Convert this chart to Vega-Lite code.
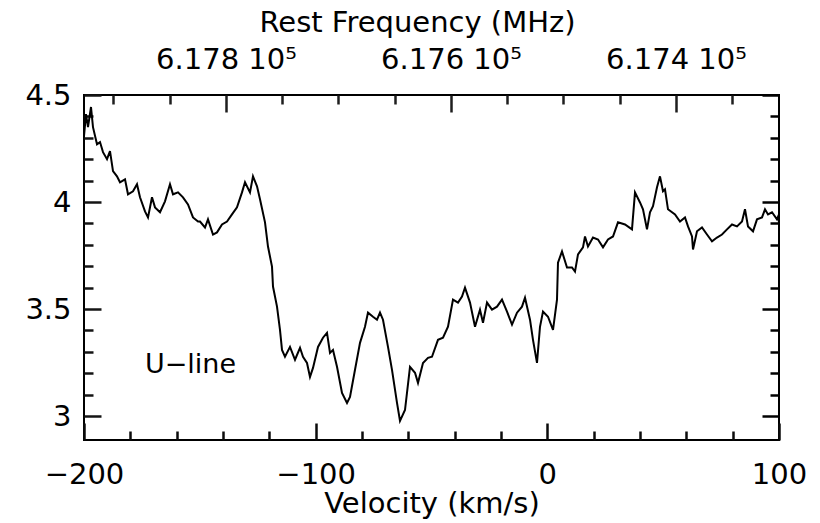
{
  "$schema": "https://vega.github.io/schema/vega-lite/v6.json",
  "width": 695,
  "height": 345,
  "autosize": "none",
  "padding": {"left": 84, "top": 95, "right": 41, "bottom": 83},
  "background": "white",
  "config": {
    "view": {"stroke": "black", "strokeWidth": 2},
    "font": "DejaVu Sans",
    "axis": {"domain": false, "grid": false, "tickWidth": 2.5, "labelColor": "black", "titleColor": "black", "labelFont": "DejaVu Sans", "titleFont": "DejaVu Sans", "labelFontSize": 29, "titleFontSize": 29, "titleFontWeight": "normal", "labelFlush": false, "labelOverlap": false}
  },
  "datasets": {
    "spec": [
      {"v": -200.0, "T": 4.308}, {"v": -199.14, "T": 4.411}, {"v": -198.27, "T": 4.35}, {"v": -196.98, "T": 4.444}, {"v": -196.12, "T": 4.35},
      {"v": -194.39, "T": 4.27}, {"v": -193.09, "T": 4.28}, {"v": -191.8, "T": 4.233}, {"v": -190.07, "T": 4.2}, {"v": -188.78, "T": 4.238},
      {"v": -187.48, "T": 4.144}, {"v": -185.76, "T": 4.12}, {"v": -184.46, "T": 4.092}, {"v": -182.3, "T": 4.106}, {"v": -181.01, "T": 4.036},
      {"v": -178.85, "T": 4.05}, {"v": -177.12, "T": 4.083}, {"v": -175.83, "T": 4.022}, {"v": -173.67, "T": 3.956}, {"v": -172.37, "T": 3.928},
      {"v": -170.65, "T": 4.022}, {"v": -169.35, "T": 3.975}, {"v": -167.19, "T": 3.952}, {"v": -165.04, "T": 4.003}, {"v": -162.88, "T": 4.083},
      {"v": -161.58, "T": 4.036}, {"v": -159.42, "T": 4.045}, {"v": -157.26, "T": 4.022}, {"v": -155.11, "T": 3.989}, {"v": -152.95, "T": 3.928},
      {"v": -150.79, "T": 3.909}, {"v": -149.93, "T": 3.909}, {"v": -147.77, "T": 3.881}, {"v": -146.48, "T": 3.919}, {"v": -144.32, "T": 3.848},
      {"v": -142.59, "T": 3.858}, {"v": -140.43, "T": 3.895}, {"v": -138.27, "T": 3.909}, {"v": -136.12, "T": 3.942}, {"v": -133.96, "T": 3.975},
      {"v": -131.8, "T": 4.045}, {"v": -130.5, "T": 4.092}, {"v": -128.35, "T": 4.045}, {"v": -127.05, "T": 4.12}, {"v": -125.32, "T": 4.073},
      {"v": -124.03, "T": 4.013}, {"v": -121.87, "T": 3.905}, {"v": -120.58, "T": 3.792}, {"v": -118.85, "T": 3.698}, {"v": -118.42, "T": 3.605},
      {"v": -116.69, "T": 3.511}, {"v": -115.4, "T": 3.403}, {"v": -114.53, "T": 3.309}, {"v": -113.24, "T": 3.277}, {"v": -111.08, "T": 3.323},
      {"v": -108.92, "T": 3.263}, {"v": -106.76, "T": 3.319}, {"v": -105.47, "T": 3.277}, {"v": -103.74, "T": 3.248}, {"v": -102.45, "T": 3.183},
      {"v": -101.15, "T": 3.225}, {"v": -98.99, "T": 3.323}, {"v": -96.84, "T": 3.366}, {"v": -95.11, "T": 3.389}, {"v": -93.81, "T": 3.295},
      {"v": -92.52, "T": 3.309}, {"v": -90.79, "T": 3.23}, {"v": -88.63, "T": 3.108}, {"v": -86.47, "T": 3.061}, {"v": -85.18, "T": 3.089},
      {"v": -83.02, "T": 3.216}, {"v": -80.86, "T": 3.342}, {"v": -78.71, "T": 3.417}, {"v": -77.41, "T": 3.483}, {"v": -75.25, "T": 3.464},
      {"v": -73.53, "T": 3.45}, {"v": -72.23, "T": 3.483}, {"v": -70.94, "T": 3.45}, {"v": -68.78, "T": 3.323}, {"v": -67.05, "T": 3.216},
      {"v": -64.89, "T": 3.061}, {"v": -63.6, "T": 2.977}, {"v": -61.44, "T": 3.028}, {"v": -59.28, "T": 3.23}, {"v": -57.12, "T": 3.202},
      {"v": -55.83, "T": 3.155}, {"v": -53.67, "T": 3.248}, {"v": -51.51, "T": 3.272}, {"v": -49.79, "T": 3.277}, {"v": -47.2, "T": 3.356},
      {"v": -45.04, "T": 3.366}, {"v": -42.88, "T": 3.417}, {"v": -40.72, "T": 3.544}, {"v": -38.56, "T": 3.53}, {"v": -36.84, "T": 3.558},
      {"v": -35.54, "T": 3.6}, {"v": -33.38, "T": 3.53}, {"v": -31.22, "T": 3.417}, {"v": -29.07, "T": 3.497}, {"v": -27.77, "T": 3.436},
      {"v": -26.04, "T": 3.53}, {"v": -23.89, "T": 3.497}, {"v": -21.73, "T": 3.511}, {"v": -19.57, "T": 3.544}, {"v": -17.41, "T": 3.488},
      {"v": -15.25, "T": 3.427}, {"v": -13.09, "T": 3.483}, {"v": -10.94, "T": 3.511}, {"v": -9.64, "T": 3.553}, {"v": -7.48, "T": 3.45},
      {"v": -6.19, "T": 3.356}, {"v": -4.46, "T": 3.248}, {"v": -3.17, "T": 3.417}, {"v": -1.87, "T": 3.488}, {"v": 0.29, "T": 3.464},
      {"v": 2.45, "T": 3.403}, {"v": 4.17, "T": 3.544}, {"v": 4.6, "T": 3.717}, {"v": 6.33, "T": 3.769}, {"v": 8.49, "T": 3.694},
      {"v": 10.65, "T": 3.694}, {"v": 11.94, "T": 3.675}, {"v": 13.24, "T": 3.755}, {"v": 15.39, "T": 3.788}, {"v": 16.26, "T": 3.839},
      {"v": 17.55, "T": 3.792}, {"v": 19.71, "T": 3.834}, {"v": 21.87, "T": 3.825}, {"v": 24.03, "T": 3.788}, {"v": 26.19, "T": 3.825},
      {"v": 28.34, "T": 3.839}, {"v": 30.5, "T": 3.905}, {"v": 33.52, "T": 3.895}, {"v": 36.54, "T": 3.872}, {"v": 37.84, "T": 4.045},
      {"v": 40.0, "T": 3.998}, {"v": 41.29, "T": 3.966}, {"v": 43.02, "T": 3.872}, {"v": 44.31, "T": 3.952}, {"v": 45.61, "T": 3.98},
      {"v": 47.34, "T": 4.069}, {"v": 48.63, "T": 4.12}, {"v": 49.93, "T": 4.05}, {"v": 50.79, "T": 4.059}, {"v": 52.08, "T": 3.966},
      {"v": 55.11, "T": 3.942}, {"v": 57.26, "T": 3.909}, {"v": 59.42, "T": 3.928}, {"v": 60.72, "T": 3.886}, {"v": 62.45, "T": 3.839},
      {"v": 62.88, "T": 3.778}, {"v": 64.6, "T": 3.863}, {"v": 66.76, "T": 3.881}, {"v": 68.92, "T": 3.848}, {"v": 71.08, "T": 3.816},
      {"v": 73.23, "T": 3.834}, {"v": 75.39, "T": 3.848}, {"v": 77.55, "T": 3.872}, {"v": 79.71, "T": 3.895}, {"v": 81.87, "T": 3.886},
      {"v": 84.03, "T": 3.909}, {"v": 85.32, "T": 3.966}, {"v": 86.62, "T": 3.886}, {"v": 88.78, "T": 3.863}, {"v": 90.5, "T": 3.919},
      {"v": 92.66, "T": 3.928}, {"v": 93.96, "T": 3.966}, {"v": 95.25, "T": 3.942}, {"v": 96.98, "T": 3.952}, {"v": 99.14, "T": 3.919},
      {"v": 100.0, "T": 3.942}
    ],
    "freq": [
      {"f": 617926.2, "T": 3.5},
      {"f": 617308.4, "T": 3.5}
    ],
    "note": [
      {"v": -173.7, "T": 3.239, "label": "U−line"}
    ]
  },
  "resolve": {"scale": {"x": "independent"}, "axis": {"x": "independent", "y": "independent"}},
  "layer": [
    {
      "data": {"name": "spec"},
      "mark": {"type": "line", "color": "black", "strokeWidth": 2, "interpolate": "linear"},
      "encoding": {
        "x": {"field": "v", "type": "quantitative", "scale": {"domain": [-200, 100], "nice": false, "zero": false},
              "axis": {"orient": "bottom", "values": [-200, -180, -160, -140, -120, -100, -80, -60, -40, -20, 0, 20, 40, 60, 80, 100],
                       "tickSize": {"condition": {"test": "datum.value % 100 === 0", "value": -17}, "value": -9},
                       "tickColor": "#0a0a0a",
                       "labelExpr": "datum.value % 100 === 0 ? datum.label : ''",
                       "labelPadding": 37, "title": "Velocity (km/s)", "titlePadding": -8}},
        "y": {"field": "T", "type": "quantitative", "scale": {"domain": [2.888, 4.5], "nice": false, "zero": false},
              "axis": {"orient": "left", "values": [3.0, 3.1, 3.2, 3.3, 3.4, 3.5, 3.6, 3.7, 3.8, 3.9, 4.0, 4.1, 4.2, 4.3, 4.4, 4.5],
                       "tickSize": {"condition": {"test": "abs(datum.value * 2 - round(datum.value * 2)) < 0.001", "value": -17}, "value": -9},
                       "tickColor": "#141414",
                       "labelExpr": "abs(datum.value * 2 - round(datum.value * 2)) < 0.001 ? format(datum.value, '~g') : ''",
                       "labelPadding": 30, "title": null}}
      }
    },
    {
      "data": {"name": "freq"},
      "mark": {"type": "point", "opacity": 0},
      "encoding": {
        "x": {"field": "f", "type": "quantitative", "scale": {"domain": [617308.4, 617926.2], "reverse": true, "nice": false, "zero": false},
              "axis": {"orient": "top", "values": [617350, 617400, 617450, 617500, 617550, 617600, 617650, 617700, 617750, 617800, 617850, 617900],
                       "tickSize": {"condition": {"test": "datum.value % 200 === 0", "value": -17}, "value": -9},
                       "tickColor": "#1e1e1e",
                       "labelExpr": "datum.value % 200 === 0 ? format(datum.value / 100000, '.3f') + ' 10⁵' : ''",
                       "labelPadding": 38, "title": "Rest Frequency (MHz)", "titlePadding": 0, "titleX": 333}},
        "y": {"field": "T", "type": "quantitative",
              "axis": {"orient": "right", "labels": false, "values": [3.0, 3.1, 3.2, 3.3, 3.4, 3.5, 3.6, 3.7, 3.8, 3.9, 4.0, 4.1, 4.2, 4.3, 4.4, 4.5],
                       "tickSize": {"condition": {"test": "abs(datum.value * 2 - round(datum.value * 2)) < 0.001", "value": -17}, "value": -9},
                       "tickColor": "#000000",
                       "title": null}}
      }
    },
    {
      "data": {"name": "note"},
      "mark": {"type": "text", "align": "left", "baseline": "middle", "font": "DejaVu Sans", "fontSize": 27, "color": "black"},
      "encoding": {
        "x": {"field": "v", "type": "quantitative", "scale": {"domain": [-200, 100], "nice": false, "zero": false}, "axis": null},
        "y": {"field": "T", "type": "quantitative", "axis": null},
        "text": {"field": "label"}
      }
    }
  ]
}
